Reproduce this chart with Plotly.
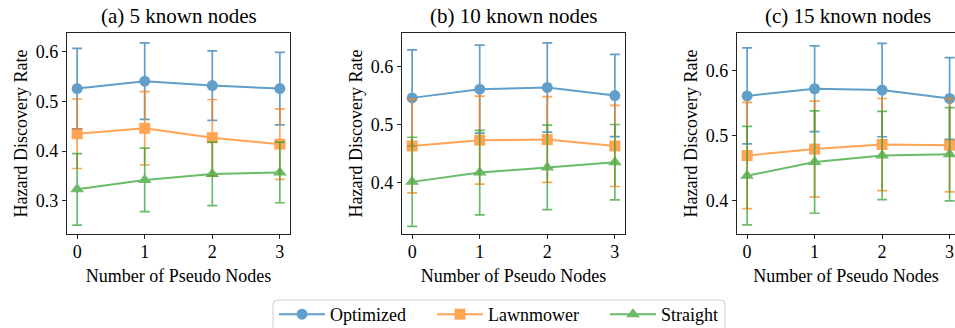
import plotly.graph_objects as go

pseudo_nodes = [0, 1, 2, 3]
panel_titles = ["(a) 5 known nodes", "(b) 10 known nodes", "(c) 15 known nodes"]
series_names = ["Optimized", "Lawnmower", "Straight"]

# panel (a) 5 known nodes
a_opt = [0.526, 0.541, 0.532, 0.526]
a_opt_err = [0.081, 0.077, 0.070, 0.073]
a_lawn = [0.435, 0.446, 0.427, 0.414]
a_lawn_err = [0.070, 0.074, 0.077, 0.071]
a_str = [0.323, 0.342, 0.354, 0.357]
a_str_err = [0.072, 0.064, 0.064, 0.061]

# panel (b) 10 known nodes
b_opt = [0.546, 0.561, 0.564, 0.550]
b_opt_err = [0.083, 0.076, 0.077, 0.071]
b_lawn = [0.463, 0.473, 0.474, 0.463]
b_lawn_err = [0.081, 0.076, 0.074, 0.070]
b_str = [0.401, 0.417, 0.426, 0.435]
b_str_err = [0.077, 0.073, 0.073, 0.065]

# panel (c) 15 known nodes
c_opt = [0.561, 0.572, 0.570, 0.557]
c_opt_err = [0.074, 0.066, 0.072, 0.063]
c_lawn = [0.469, 0.479, 0.486, 0.485]
c_lawn_err = [0.082, 0.074, 0.071, 0.072]
c_str = [0.438, 0.459, 0.469, 0.471]
c_str_err = [0.076, 0.079, 0.068, 0.072]

panels = [
    [(a_opt, a_opt_err), (a_lawn, a_lawn_err), (a_str, a_str_err)],
    [(b_opt, b_opt_err), (b_lawn, b_lawn_err), (b_str, b_str_err)],
    [(c_opt, c_opt_err), (c_lawn, c_lawn_err), (c_str, c_str_err)],
]

colors = ["#1f77b4", "#ff7f0e", "#2ca02c"]
symbols = ["circle", "square", "triangle-up"]
msizes = [11, 11, 12]
FONT = "Liberation Serif"

W, H = 955, 328
x_domains_px = [(67, 290), (402, 625), (737, 955)]
y_top_px, y_bot_px = 33, 234
y_ranges = [[0.233, 0.638], [0.311, 0.658], [0.348, 0.658]]
x_ranges = [[-0.15, 3.15], [-0.15, 3.15], [-0.15, 3.08]]
legend_ids = ["legend", "legend2", "legend3"]
legend_x_px = [274, 432, 605]

fig = go.Figure()
for p, series in enumerate(panels):
    ax = "" if p == 0 else str(p + 1)
    for s, (vals, errs) in enumerate(series):
        fig.add_trace(go.Scatter(
            x=pseudo_nodes, y=vals,
            mode="lines+markers",
            name=series_names[s],
            legend=legend_ids[s],
            showlegend=(p == 0),
            line=dict(color=colors[s], width=2),
            marker=dict(symbol=symbols[s], size=msizes[s], color=colors[s]),
            opacity=0.7,
            cliponaxis=False,
            error_y=dict(type="data", array=errs, visible=True,
                         color=colors[s], thickness=1.7, width=5),
            xaxis="x" + ax, yaxis="y" + ax,
        ))

# rounded legend frame
lx0, lx1, ly0, ly1, rr = 273 / W, 725 / W, (H - 345) / H, (H - 300) / H, 4
rx, ry = rr / W, rr / H
frame_path = (f"M {lx0 + rx},{ly1} L {lx1 - rx},{ly1} Q {lx1},{ly1} {lx1},{ly1 - ry} "
              f"L {lx1},{ly0} L {lx0},{ly0} L {lx0},{ly1 - ry} Q {lx0},{ly1} {lx0 + rx},{ly1} Z")

layout = dict(
    width=W, height=H,
    margin=dict(l=0, r=0, t=0, b=0, autoexpand=False),
    paper_bgcolor="white", plot_bgcolor="white",
    font=dict(family=FONT, size=18, color="black"),
    showlegend=True,
    annotations=[],
    shapes=[dict(type="path", xref="paper", yref="paper", path=frame_path,
                 line=dict(color="#cccccc", width=1), fillcolor="white", layer="below")],
)
for s in range(3):
    layout[legend_ids[s]] = dict(
        orientation="h", x=legend_x_px[s] / W, xanchor="left",
        y=(H - 296) / H, yanchor="top",
        borderwidth=0, bgcolor="rgba(0,0,0,0)",
        font=dict(family=FONT, size=18), itemwidth=46,
    )
for p in range(3):
    ax = "" if p == 0 else str(p + 1)
    x0, x1 = x_domains_px[p]
    layout["xaxis" + ax] = dict(
        domain=[x0 / W, min(x1 / W, 1.0)],
        range=x_ranges[p],
        anchor="y" + ax,
        automargin=False,
        tickvals=pseudo_nodes, ticktext=[str(v) for v in pseudo_nodes],
        ticks="outside", ticklen=4, tickwidth=1.2, tickcolor="#222",
        showline=True, linecolor="#222", linewidth=1.4, mirror=True,
        showgrid=False, zeroline=False,
        ticklabelstandoff=-3,
        title=dict(text="Number of Pseudo Nodes", standoff=8, font=dict(family=FONT, size=18)),
        tickfont=dict(family=FONT, size=18),
    )
    layout["yaxis" + ax] = dict(
        domain=[(H - y_bot_px) / H, (H - y_top_px) / H],
        range=y_ranges[p],
        anchor="x" + ax,
        automargin=False,
        tickvals=[0.3, 0.4, 0.5, 0.6], ticktext=["0.3", "0.4", "0.5", "0.6"],
        ticks="outside", ticklen=4, tickwidth=1.2, tickcolor="#222",
        showline=True, linecolor="#222", linewidth=1.4, mirror=(p < 2),
        showgrid=False, zeroline=False,
        ticklabelstandoff=0,
        title=dict(text="Hazard Discovery Rate", standoff=3, font=dict(family=FONT, size=18)),
        tickfont=dict(family=FONT, size=18),
    )
    layout["annotations"].append(dict(
        text=panel_titles[p], xref="paper", yref="paper",
        x=(x0 + (x1 if p < 2 else 955 + 4)) / 2 / W, y=(H - 16) / H,
        xanchor="center", yanchor="middle", showarrow=False,
        font=dict(family=FONT, size=21, color="black"),
    ))

fig.update_layout(**layout)
fig.write_html("out.html", config={"displayModeBar": False},
               post_script="document.body.style.margin='0px';document.body.style.overflow='hidden';")
